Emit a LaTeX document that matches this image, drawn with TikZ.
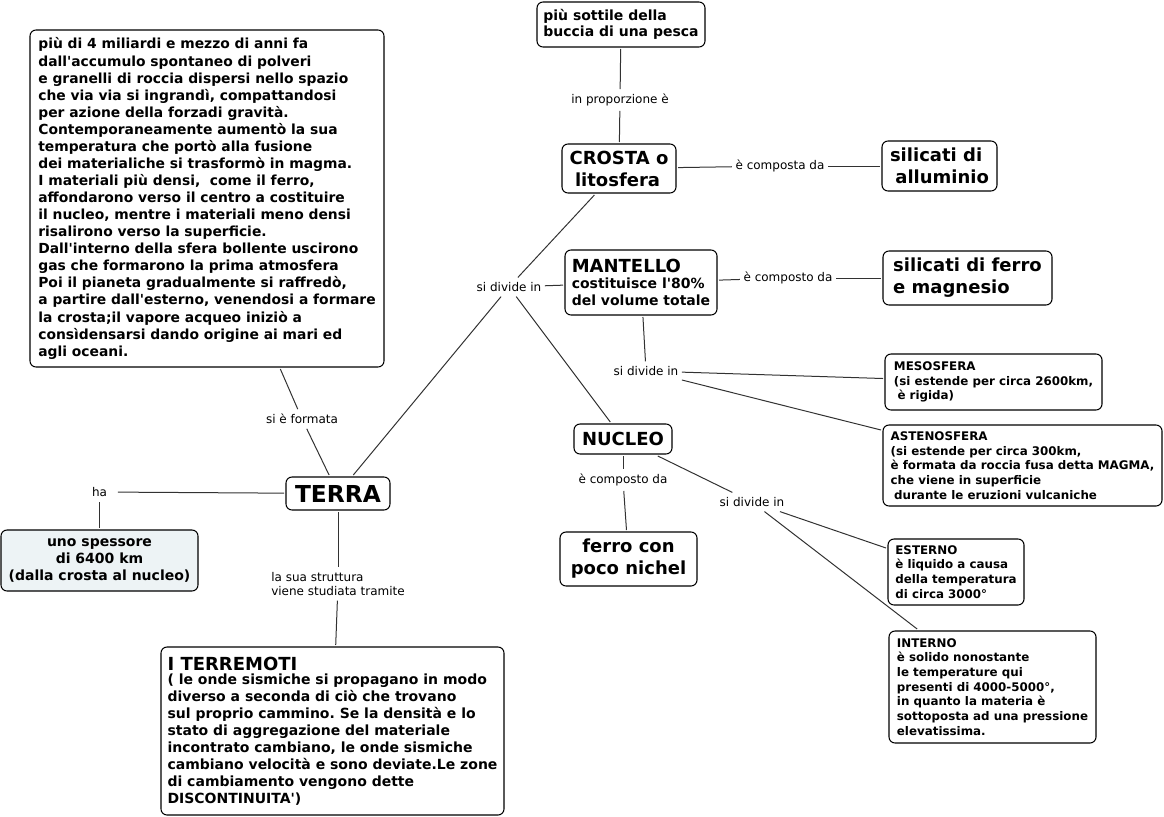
\documentclass[tikz,border=0pt]{standalone}
\usepackage{fontspec}
\setmainfont{DejaVu Sans}[Ligatures=TeXOff]
\frenchspacing
\definecolor{lightfill}{RGB}{237,243,245}
\definecolor{conn}{RGB}{50,50,50}
\newcommand\fsBig{\fontsize{10.4}{12.8}\selectfont}
\newcommand\fsBody{\fontsize{10.5}{12.75}\selectfont}
\newcommand\fsMid{\fontsize{10.5}{12.5}\selectfont}
\newcommand\fsLarge{\fontsize{13.5}{16.5}\selectfont}
\newcommand\fsHuge{\fontsize{17.5}{20}\selectfont}
\newcommand\fsSmall{\fontsize{8.9}{11}\selectfont}
\newcommand\fsLab{\fontsize{9}{10.5}\selectfont}
\begin{document}
\begin{tikzpicture}[x=0.75pt,y=-0.75pt,
  box/.style={draw=black, line width=0.8pt, rounded corners=4.5pt, fill=white,
    inner sep=0pt, outer sep=1.5pt, align=left},
  lab/.style={font=\fsLab, inner xsep=2.5pt, inner ysep=3.5pt, align=left},
  con/.style={draw=conn, line width=0.75pt}]
\useasboundingbox (0,0) rectangle (1164,817);

% boxes
\node[box, minimum width=265.5pt, minimum height=252.75pt, font=\fsBig\bfseries] (form) at (207,198.5)
{più di 4 miliardi e mezzo di anni fa\\
dall'accumulo spontaneo di polveri\\
e granelli di roccia dispersi nello spazio\\
che via via si ingrandì, compattandosi\\
per azione della forzadi gravità.\\
Contemporaneamente aumentò la sua\\
temperatura che portò alla fusione\\
dei materialiche si trasformò in magma.\\
I materiali più densi,\ \ come il ferro,\\
affondarono verso il centro a costituire\\
il nucleo, mentre i materiali meno densi\\
risalirono verso la superficie.\\
Dall'interno della sfera bollente uscirono\\
gas che formarono la prima atmosfera\\
Poi il pianeta gradualmente si raffredò,\\
a partire dall'esterno, venendosi a formare\\
la crosta;il vapore acqueo iniziò a\\
consìdensarsi dando origine ai mari ed\\
agli oceani.};

\node[box, minimum width=126pt, minimum height=33.75pt, font=\fsMid\bfseries] (pesca) at (621,24.5)
{più sottile della\\ buccia di una pesca};

\node[box, minimum width=85.5pt, minimum height=36.75pt, font=\fsLarge\bfseries] (crosta) at (619,168.5)
{CROSTA o\\ \hspace*{0.3em}litosfera};

\node[box, minimum width=86.25pt, minimum height=37.5pt, font=\fsLarge\bfseries] (silal) at (939.5,166)
{silicati di\\ \hspace*{0.3em}alluminio};

\node[box, minimum width=114pt, minimum height=48.75pt, font=\fsMid\bfseries] (mantello) at (641,282.5)
{{\fsLarge MANTELLO}\\[-0.5pt] costituisce l'80\%\\ del volume totale};

\node[box, minimum width=126.75pt, minimum height=40.5pt, font=\fsLarge\bfseries] (silfe) at (967.5,278)
{silicati di ferro\\ e magnesio};

\node[box, minimum width=78pt, minimum height=24.75pt, font=\fsHuge\bfseries] (terra) at (338,493.5)
{TERRA};

\node[box, fill=lightfill, minimum width=147.75pt, minimum height=45.75pt, font=\fsMid\bfseries, align=center] (spess) at (99.5,560.5)
{uno spessore\\ di 6400 km\\ (dalla crosta al nucleo)};

\node[box, minimum width=257.25pt, minimum height=126pt, font=\fsBody\bfseries] (terrem) at (332.5,731)
{{\fsLarge I TERREMOTI}\\[-2pt]
( le onde sismiche si propagano in modo\\
diverso a seconda di ciò che trovano\\
sul proprio cammino. Se la densità e lo\\
stato di aggregazione del materiale\\
incontrato cambiano, le onde sismiche\\
cambiano velocità e sono deviate.Le zone\\
di cambiamento vengono dette\\
DISCONTINUITA')};

\node[box, minimum width=73.5pt, minimum height=22.5pt, font=\fsLarge\bfseries] (nucleo) at (623,439)
{NUCLEO};

\node[box, minimum width=102.75pt, minimum height=40.5pt, font=\fsLarge\bfseries, align=center] (ferro) at (628.5,559)
{ferro con\\ poco nichel};

\node[box, minimum width=162.75pt, minimum height=42pt, font=\fsSmall\bfseries] (meso) at (993.5,382)
{MESOSFERA\\ (si estende per circa 2600km,\\ \hspace*{0.3em}è rigida)};

\node[box, minimum width=209.25pt, minimum height=60.75pt, font=\fsSmall\bfseries] (asteno) at (1022.5,465.5)
{ASTENOSFERA\\ (si estende per circa 300km,\\ è formata da roccia fusa detta MAGMA,\\ che viene in superficie\\ \hspace*{0.3em}durante le eruzioni vulcaniche};

\node[box, minimum width=102pt, minimum height=49.5pt, font=\fsSmall\bfseries] (esterno) at (956,572)
{ESTERNO\\ è liquido a causa\\ della temperatura\\ di circa 3000°};

\node[box, minimum width=155.25pt, minimum height=84pt, font=\fsSmall\bfseries] (interno) at (992.5,687)
{INTERNO\\ è solido nonostante\\ le temperature qui\\ presenti di 4000-5000°,\\ in quanto la materia è\\ sottoposta ad una pressione\\ elevatissima.};

% labels
\node[lab] (lform) at (302,419) {si è formata};
\node[lab] (lprop) at (620,100) {in proporzione è};
\node[lab] (lcomp1) at (780,166) {è composta da};
\node[lab] (lcomp2) at (788,278) {è composto da};
\node[lab] (ldiv1) at (509,287) {si divide in};
\node[lab] (ldiv2) at (646,371) {si divide in};
\node[lab, inner xsep=8pt, inner ysep=4pt] (lha) at (99.5,492) {ha};
\node[lab] (lstud) at (338,584) {la sua struttura\\ viene studiata tramite};
\node[lab] (lcomp3) at (623,480) {è composto da};
\node[lab] (ldiv3) at (752,502) {si divide in};

% connectors
\draw[con] (form) -- (lform);
\draw[con] (lform) -- (terra);
\draw[con] (pesca) -- (lprop);
\draw[con] (lprop) -- (crosta);
\draw[con] (crosta) -- (lcomp1);
\draw[con] (lcomp1) -- (silal);
\draw[con] (mantello) -- (lcomp2);
\draw[con] (lcomp2) -- (silfe);
\draw[con] (crosta) -- (ldiv1);
\draw[con] (ldiv1) -- (terra);
\draw[con] (ldiv1) -- (mantello);
\draw[con] (ldiv1) -- (nucleo);
\draw[con] (mantello) -- (ldiv2);
\draw[con] (ldiv2) -- (meso);
\draw[con] (ldiv2) -- (asteno);
\draw[con] (terra) -- (lha);
\draw[con] (lha) -- (spess);
\draw[con] (terra) -- (lstud);
\draw[con] (lstud) -- (terrem);
\draw[con] (nucleo) -- (lcomp3);
\draw[con] (lcomp3) -- (ferro);
\draw[con] (nucleo) -- (ldiv3);
\draw[con] (ldiv3) -- (esterno);
\draw[con] (ldiv3) -- (interno);
\end{tikzpicture}
\end{document}
